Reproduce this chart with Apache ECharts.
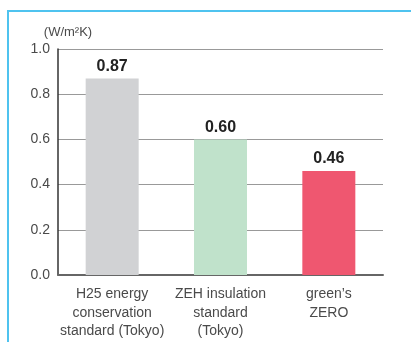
<!DOCTYPE html>
<html><head><meta charset="utf-8">
<script src="https://cdn.jsdelivr.net/npm/echarts@6/dist/echarts.min.js"></script>
<style>
html,body{margin:0;padding:0;background:#fff;}
#frame{position:absolute;left:7px;top:10px;width:420px;height:340px;border-left:2px solid #4fc3ef;border-top:2px solid #4fc3ef;box-sizing:border-box;}
#c{position:absolute;left:0;top:0;width:411px;height:342px;}
</style></head>
<body><div id="frame"></div><div id="c"></div>
<script>
const categories = ['H25 energy\nconservation\nstandard (Tokyo)', 'ZEH insulation\nstandard\n(Tokyo)', 'green\u2019s\nZERO'];
const values = [0.87, 0.60, 0.46];
const colors = ['#d1d2d4', '#c0e2cb', '#ef5770'];
const yTicks = [0, 0.2, 0.4, 0.6, 0.8, 1.0];
const unit = '(W/m\u00b2K)';

const FF = 'Liberation Sans, Arial, sans-serif';
const chart = echarts.init(document.getElementById('c'));
chart.setOption({
  animation: false,
  grid: {left: 58, right: 28, top: 49, bottom: 67},
  xAxis: {
    type: 'category', data: categories,
    axisLine: {lineStyle: {color: '#666', width: 2}},
    axisTick: {show: false},
    axisLabel: {color: '#4a4a4a', fontSize: 14, lineHeight: 18.5, fontFamily: FF, margin: 10, interval: 0}
  },
  yAxis: {
    type: 'value', min: 0, max: 1, interval: 0.2,
    name: unit, nameLocation: 'end', nameGap: 10,
    nameTextStyle: {color: '#4a4a4a', fontSize: 13, align: 'center', padding: [0, 0, 0, 20], fontFamily: FF},
    axisLine: {show: true, lineStyle: {color: '#333', width: 1.5}},
    axisTick: {show: false},
    splitLine: {lineStyle: {color: '#999', width: 1}},
    axisLabel: {color: '#4a4a4a', fontSize: 14, margin: 8, fontFamily: FF,
      formatter: v => { const t = yTicks.find(x => Math.abs(x - v) < 1e-9); return (t !== undefined ? t : v).toFixed(1); }}
  },
  series: [{
    type: 'bar', barWidth: 53,
    data: values.map((v, i) => ({value: v, itemStyle: {color: colors[i]}})),
    label: {show: true, position: 'top', distance: 4, color: '#222', fontWeight: 'bold', fontSize: 16,
      fontFamily: FF, formatter: p => p.value.toFixed(2)}
  }]
});
</script></body></html>
